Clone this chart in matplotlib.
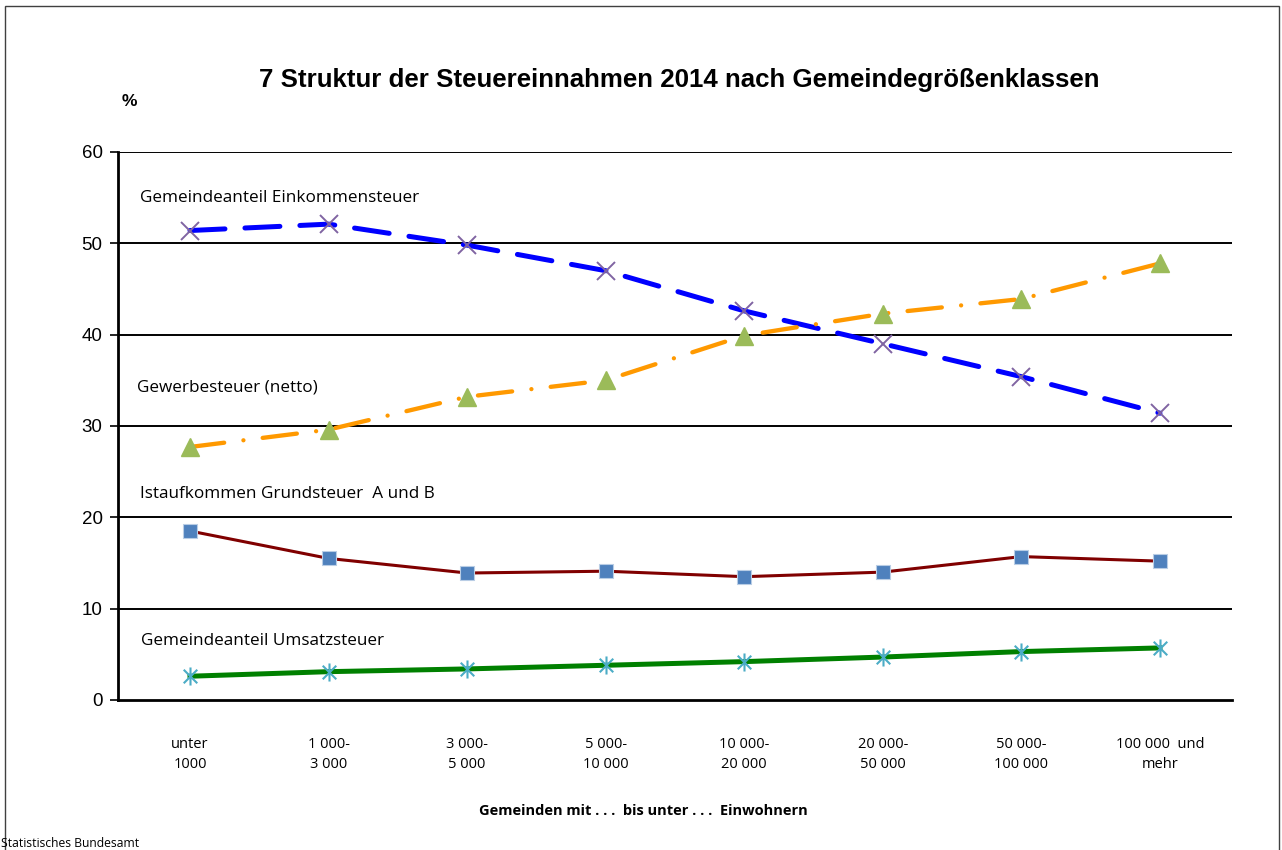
import matplotlib
matplotlib.use("Agg")
import matplotlib.pyplot as plt
from matplotlib.path import Path
from matplotlib.patches import Rectangle

# data
categories = ["unter\n1000", "1 000-\n3 000", "3 000-\n5 000", "5 000-\n10 000",
              "10 000-\n20 000", "20 000-\n50 000", "50 000-\n100 000", "100 000  und\nmehr"]
einkommensteuer = [51.4, 52.1, 49.8, 47.0, 42.6, 39.0, 35.4, 31.4]
gewerbesteuer = [27.7, 29.6, 33.2, 35.0, 39.9, 42.3, 43.9, 47.8]
grundsteuer = [18.5, 15.5, 13.9, 14.1, 13.5, 14.0, 15.7, 15.2]
umsatzsteuer = [2.6, 3.1, 3.4, 3.8, 4.2, 4.7, 5.3, 5.7]
yticks = [0, 10, 20, 30, 40, 50, 60]

label_font = "Open Sans"
x = list(range(len(categories)))

fig = plt.figure(figsize=(12.82, 8.5), dpi=100)
ax = fig.add_axes([0.092, 0.1765, 0.869, 0.6447])

# excel style asterisk: vertical bar plus an X
asterisk = Path([(0, -1), (0, 1), (-0.75, -0.75), (0.75, 0.75), (-0.75, 0.75), (0.75, -0.75)],
                [Path.MOVETO, Path.LINETO] * 3)

ax.plot(x, einkommensteuer, color="#0000ff", lw=3.6, dashes=(7, 4),
        dash_capstyle="round", marker="x", ms=13, mew=1.4, mec="#8064a2", zorder=4)
ax.plot(x, gewerbesteuer, color="#ff9900", lw=3.1, dashes=(8, 4.5, 0.01, 4.5),
        dash_capstyle="round", marker="^", ms=13, mfc="#9bbb59", mec="#9bbb59", zorder=4)
ax.plot(x, grundsteuer, color="#800000", lw=2.2, marker="s", ms=10,
        mfc="#4f81bd", mec="#b9cde5", mew=0.8, zorder=4)
ax.plot(x, umsatzsteuer, color="#008000", lw=3.6, marker=asterisk, ms=13,
        mew=1.5, mec="#4bacc6", mfc="none", zorder=4)

ax.set_xlim(-0.52, 7.52)
ax.set_ylim(0, 60)
ax.set_yticks(yticks)
ax.set_yticklabels([str(v) for v in yticks], family="Liberation Sans", fontsize=13.5)
ax.tick_params(axis="y", length=6, width=1.2, pad=5)
ax.set_xticks(x)
ax.set_xticklabels(categories, family=label_font, fontsize=10.5, linespacing=1.45)
ax.tick_params(axis="x", length=0, pad=27)

for v in yticks[1:]:
    ax.axhline(v, color="black", lw=1.4, zorder=1)
for side in ["top", "right"]:
    ax.spines[side].set_visible(False)
ax.spines["left"].set_linewidth(2)
ax.spines["bottom"].set_linewidth(2)

# series labels
ax.text(-0.36, 55.0, "Gemeindeanteil Einkommensteuer", family=label_font, fontsize=12.3, va="center")
ax.text(-0.38, 34.2, "Gewerbesteuer (netto)", family=label_font, fontsize=12.3, va="center")
ax.text(-0.36, 22.6, "Istaufkommen Grundsteuer  A und B", family=label_font, fontsize=12.3, va="center")
ax.text(-0.35, 6.5, "Gemeindeanteil Umsatzsteuer", family=label_font, fontsize=12.3, va="center")

fig.text(0.530, 0.906, "7 Struktur der Steuereinnahmen 2014 nach Gemeindegrößenklassen",
         family="Liberation Sans", fontweight="bold", fontsize=18.6, ha="center", va="center")
fig.text(0.1006, 0.880, "%", family="Liberation Sans", fontweight="bold", fontsize=12.5,
         ha="center", va="center")
fig.text(0.5016, 0.046, "Gemeinden mit . . .  bis unter . . .  Einwohnern", family=label_font,
         fontweight="bold", fontsize=10.5, ha="center", va="center")
fig.text(0.001, 0.008, "Statistisches Bundesamt", family=label_font, fontsize=8.7,
         ha="left", va="center")

fig.patches.append(Rectangle((5 / 1282, -0.02), 1274 / 1282, 1.02 - 6 / 850,
                             transform=fig.transFigure, fill=False, ec="#404040", lw=1))

fig.savefig("out.png", dpi=100)
